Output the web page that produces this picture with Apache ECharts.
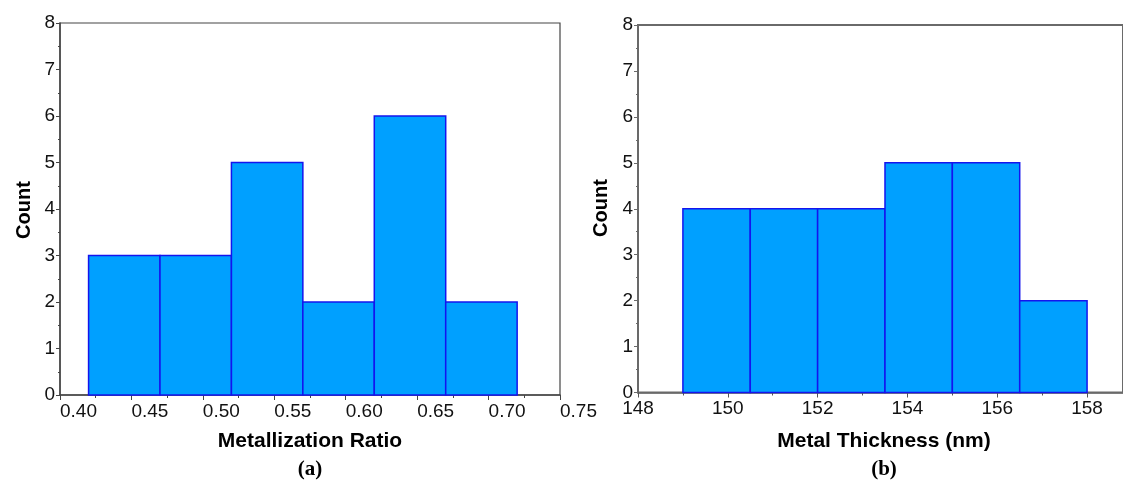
<!DOCTYPE html>
<html>
<head>
<meta charset="utf-8">
<script src="https://cdn.jsdelivr.net/npm/echarts@6/dist/echarts.min.js"></script>
<style>
  html, body { margin: 0; padding: 0; background: #fff; }
  #chart { width: 1123px; height: 486px; }
</style>
</head>
<body>
<div id="chart"></div>
<script>
// (a) metallization ratio histogram: bin edges + counts
const ratioBinStart = [0.42, 0.47, 0.52, 0.57, 0.62, 0.67];
const ratioBinEnd = [0.47, 0.52, 0.57, 0.62, 0.67, 0.72];
const ratioCount = [3, 3, 5, 2, 6, 2];

// (b) metal thickness histogram (nm)
const thickBinStart = [149, 150.5, 152, 153.5, 155, 156.5];
const thickBinEnd = [150.5, 152, 153.5, 155, 156.5, 158];
const thickCount = [4, 4, 4, 5, 5, 2];

const FONT = "Liberation Sans, Arial, sans-serif";
const barFill = "#00a0ff";
const barEdge = "#1414ee";

// build [start, end, count] rows for the custom series
function toRows(starts, ends, counts) {
  return starts.map((s, i) => [s, ends[i], counts[i]]);
}

// one rect per bin, placed through the axis scales
function renderBin(params, api) {
  const topLeft = api.coord([api.value(0), api.value(2)]);
  const bottomRight = api.coord([api.value(1), 0]);
  return {
    type: "rect",
    shape: {
      x: topLeft[0],
      y: topLeft[1],
      width: bottomRight[0] - topLeft[0],
      height: bottomRight[1] - topLeft[1],
    },
    style: { fill: barFill, stroke: barEdge, lineWidth: 1.5 },
  };
}

function yAxisFor(gridIndex, lineColor) {
  return {
    type: "value",
    gridIndex: gridIndex,
    min: 0,
    max: 8,
    interval: 1,
    axisLine: { show: true, lineStyle: { color: lineColor, width: 1.5 } },
    axisTick: { show: true, inside: false, length: 4, lineStyle: { color: lineColor } },
    minorTick: { show: true, splitNumber: 2, length: 2, lineStyle: { color: lineColor } },
    splitLine: { show: false },
    axisLabel: { fontFamily: FONT, fontSize: 19, color: "#111", margin: 5 },
  };
}

const chart = echarts.init(document.getElementById("chart"), null, { renderer: "canvas" });

const option = {
  animation: false,
  backgroundColor: "#fff",
  grid: [
    { left: 60, top: 23, width: 500, height: 372, show: true, borderColor: "#444", borderWidth: 1.2, containLabel: false },
    // right panel is cut by the page edge, as in the original (45 px per nm)
    { left: 638, top: 25, width: 486, height: 367.5, show: true, borderColor: "#6a6a6a", borderWidth: 2, containLabel: false },
  ],
  xAxis: [
    {
      type: "value",
      gridIndex: 0,
      min: 0.4,
      max: 0.75,
      interval: 0.05,
      axisLine: { show: true, onZero: false, lineStyle: { color: "#444", width: 1.5 } },
      axisTick: { show: true, inside: false, length: 5, lineStyle: { color: "#444" } },
      minorTick: { show: true, splitNumber: 2, length: 3, lineStyle: { color: "#444" } },
      splitLine: { show: false },
      axisLabel: {
        fontFamily: FONT,
        fontSize: 19,
        color: "#111",
        margin: 7,
        align: "left",
        showMaxLabel: true,
        formatter: (v) => v.toFixed(2),
      },
    },
    {
      type: "value",
      gridIndex: 1,
      min: 148,
      max: 158.8,
      interval: 2,
      axisLine: { show: true, onZero: false, lineStyle: { color: "#6a6a6a", width: 1.5 } },
      axisTick: { show: true, inside: false, length: 5, lineStyle: { color: "#555" } },
      minorTick: { show: true, splitNumber: 2, length: 3, lineStyle: { color: "#555" } },
      splitLine: { show: false },
      axisLabel: { fontFamily: FONT, fontSize: 19, color: "#111", margin: 7, showMaxLabel: false },
    },
  ],
  yAxis: [yAxisFor(0, "#444"), yAxisFor(1, "#6a6a6a")],
  series: [
    {
      type: "custom",
      xAxisIndex: 0,
      yAxisIndex: 0,
      renderItem: renderBin,
      encode: { x: [0, 1], y: 2 },
      data: toRows(ratioBinStart, ratioBinEnd, ratioCount),
    },
    {
      type: "custom",
      xAxisIndex: 1,
      yAxisIndex: 1,
      renderItem: renderBin,
      encode: { x: [0, 1], y: 2 },
      data: toRows(thickBinStart, thickBinEnd, thickCount),
    },
  ],
  // axis titles and panel captions
  graphic: [
    {
      type: "text", x: 24, y: 210, rotation: Math.PI / 2,
      style: { text: "Count", font: "bold 20px " + FONT, fill: "#000", align: "center", verticalAlign: "middle" },
    },
    {
      type: "text", x: 601, y: 208, rotation: Math.PI / 2,
      style: { text: "Count", font: "bold 20px " + FONT, fill: "#000", align: "center", verticalAlign: "middle" },
    },
    {
      type: "text", x: 310, y: 441,
      style: { text: "Metallization Ratio", font: "bold 21px " + FONT, fill: "#000", align: "center", verticalAlign: "middle" },
    },
    {
      type: "text", x: 884, y: 441,
      style: { text: "Metal Thickness (nm)", font: "bold 21px " + FONT, fill: "#000", align: "center", verticalAlign: "middle" },
    },
    {
      type: "text", x: 310, y: 470,
      style: { text: "(a)", font: "bold 21px Liberation Serif, Times New Roman, serif", fill: "#000", align: "center", verticalAlign: "middle" },
    },
    {
      type: "text", x: 884, y: 470,
      style: { text: "(b)", font: "bold 21px Liberation Serif, Times New Roman, serif", fill: "#000", align: "center", verticalAlign: "middle" },
    },
  ],
};

chart.setOption(option);
</script>
</body>
</html>
